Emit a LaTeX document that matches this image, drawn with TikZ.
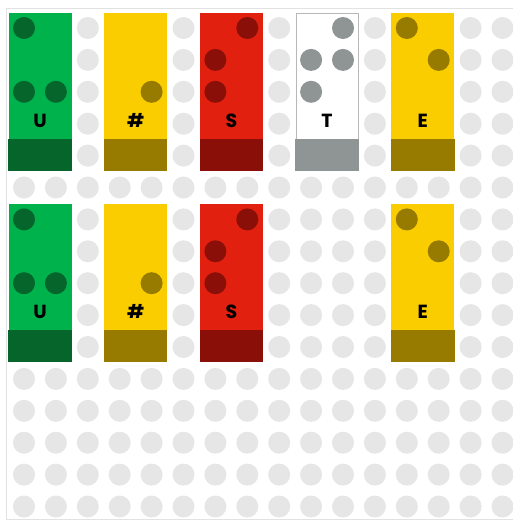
\documentclass[tikz,border=0pt]{standalone}
\usepackage{fontspec}
\setmainfont{Poppins}
\usetikzlibrary{positioning}

\definecolor{pegGray}{HTML}{E6E6E6}
\definecolor{frameGray}{HTML}{E2E2E2}
\definecolor{cellGreen}{HTML}{00B24C}
\definecolor{deepGreen}{HTML}{06652B}
\definecolor{cellYellow}{HTML}{F9CD00}
\definecolor{deepYellow}{HTML}{977A00}
\definecolor{cellRed}{HTML}{E2200F}
\definecolor{deepRed}{HTML}{8B0F09}
\definecolor{cellWhite}{HTML}{FFFFFF}
\definecolor{deepGray}{HTML}{8F9595}
\definecolor{rimGray}{HTML}{B8B8B8}

\begin{document}
\begin{tikzpicture}[
    x=31.9pt, y=-31.9pt,
    peg/.style={circle, fill=pegGray, minimum size=22pt, inner sep=0pt},
    dot/.style={circle, minimum size=22pt, inner sep=0pt},
    cellbox/.style={rectangle, minimum width=62pt, minimum height=157pt, inner sep=0pt, line width=0.8pt},
    glyph/.style={font=\fontsize{19}{19}\selectfont\bfseries, text=black, inner sep=0pt}
]
\useasboundingbox[fill=white] (-0.7524,-0.8777) rectangle (15.298,15.517);
\draw[frameGray, line width=1pt] (16,-0.627) -- (-0.549,-0.627) -- (-0.549,15.42) -- (16,15.42);

% background pegs
\foreach \i in {0,...,15}
  \foreach \j in {0,...,15}
    \node[peg] (peg-\i-\j) at (\i,\j) {};

% braille cells: name/col/row/fill/dark/rim/letter/dots
\foreach \nm/\c/\r/\base/\deep/\rim/\txt/\dotlist in {
    capU/0/0/cellGreen/deepGreen/cellGreen/U/{0/0,0/2,1/2},
    numA/3/0/cellYellow/deepYellow/cellYellow/\#/{1/2},
    letS/6/0/cellRed/deepRed/cellRed/S/{0/1,0/2,1/0},
    letT/9/0/cellWhite/deepGray/rimGray/T/{0/1,0/2,1/0,1/1},
    letE/12/0/cellYellow/deepYellow/cellYellow/E/{0/0,1/1},
    capUb/0/6/cellGreen/deepGreen/cellGreen/U/{0/0,0/2,1/2},
    numAb/3/6/cellYellow/deepYellow/cellYellow/\#/{1/2},
    letSb/6/6/cellRed/deepRed/cellRed/S/{0/1,0/2,1/0},
    letEb/12/6/cellYellow/deepYellow/cellYellow/E/{0/0,1/1}}{
  \node[cellbox, fill=\base, draw=\rim] (\nm) at (\c+0.5,\r+2) {};
  \fill[\deep] ([xshift=-0.4pt]\nm.south west) rectangle ([xshift=0.4pt,yshift=32pt]\nm.south east);
  \node[glyph] (\nm-txt) at (\c+0.5,\r+2.9) {\txt};
  \foreach \dx/\dy in \dotlist
    \node[dot, fill=\deep] (\nm-\dx-\dy) at (\c+\dx,\r+\dy) {};
}
\end{tikzpicture}
\end{document}
